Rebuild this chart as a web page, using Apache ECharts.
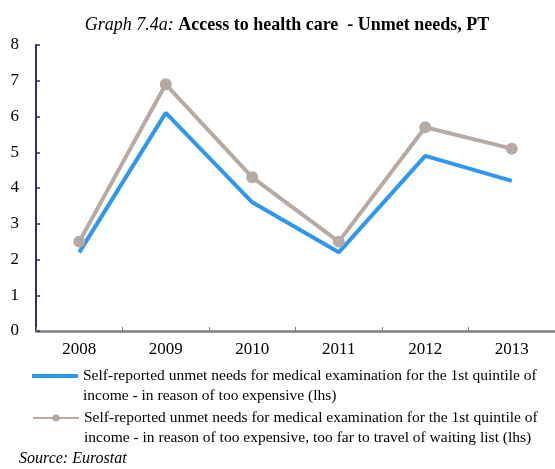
<!DOCTYPE html>
<html><head><meta charset="utf-8">
<script src="https://cdn.jsdelivr.net/npm/echarts@6/dist/echarts.min.js"></script>
<style>html,body{margin:0;padding:0;background:#fff}#c{width:555px;height:469px}</style>
</head><body><div id="c"></div>
<script>
const categories = ['2008','2009','2010','2011','2012','2013'];
const expensive = [2.2, 6.1, 3.6, 2.2, 4.9, 4.2];
const expensiveFarWaiting = [2.5, 6.9, 4.3, 2.5, 5.7, 5.1];
const yTicks = [0,1,2,3,4,5,6,7,8];
const name1 = 'Self-reported unmet needs for medical examination for the 1st quintile of\nincome - in reason of too expensive (lhs)';
const name2 = 'Self-reported unmet needs for medical examination for the 1st quintile of\nincome - in reason of too expensive, too far to travel of waiting list (lhs)';
const F = '"Liberation Serif", "Times New Roman", serif';
const chart = echarts.init(document.getElementById('c'), null, {renderer:'canvas'});
const legendText = {fontFamily:F, fontSize:15.5, color:'#000', lineHeight:20};
chart.setOption({
  animation:false,
  backgroundColor:'#fff',
  title:{
    text:'{i|Graph 7.4a: }{b|Access to health care  - Unmet needs, PT}',
    left:282, top:11, textAlign:'center',
    textStyle:{fontWeight:'normal', rich:{
      i:{fontFamily:F, fontStyle:'italic', fontWeight:'normal', fontSize:18, color:'#000'},
      b:{fontFamily:F, fontWeight:'bold', fontSize:18, color:'#000'}
    }}
  },
  grid:{left:36, right:0, top:45, bottom:138, containLabel:false},
  xAxis:{type:'category', data:categories, boundaryGap:true,
    axisLine:{lineStyle:{color:'#808080', width:2.5}},
    axisTick:{show:true, inside:true, length:4, lineStyle:{color:'#808080', width:1}},
    axisLabel:{color:'#000', fontFamily:F, fontSize:17, margin:10}
  },
  yAxis:{type:'value', min:yTicks[0], max:yTicks[yTicks.length-1], interval:1,
    axisLine:{show:true, lineStyle:{color:'#2d306b', width:2}},
    axisTick:{show:true, inside:true, length:4, lineStyle:{color:'#2d306b', width:1.5}},
    splitLine:{show:false},
    axisLabel:{color:'#000', fontFamily:F, fontSize:17, margin:17}
  },
  legend:[
    {data:[{name:name1, icon:'rect'}], left:32, top:346, itemWidth:46, itemHeight:4, itemGap:0, padding:0,
     formatter: n => '\n' + n, textStyle:legendText},
    {data:[name2], left:32, top:388, itemWidth:46, itemHeight:9, itemGap:0, padding:0,
     formatter: n => '\n' + n, textStyle:legendText}
  ],
  graphic:[{type:'text', left:19, top:451, style:{text:'Source: Eurostat', fontFamily:F, fontStyle:'italic', fontSize:16, fill:'#000'}}],
  series:[
    {name:name1, type:'line', data:expensive, showSymbol:false, symbol:'none',
     lineStyle:{color:'#2e97f2', width:4}, itemStyle:{color:'#2e97f2'}, z:2},
    {name:name2, type:'line', data:expensiveFarWaiting, symbol:'circle', symbolSize:12,
     lineStyle:{color:'#b7aaa2', width:4}, itemStyle:{color:'#b7aaa2'}, z:3}
  ]
});
</script></body></html>
